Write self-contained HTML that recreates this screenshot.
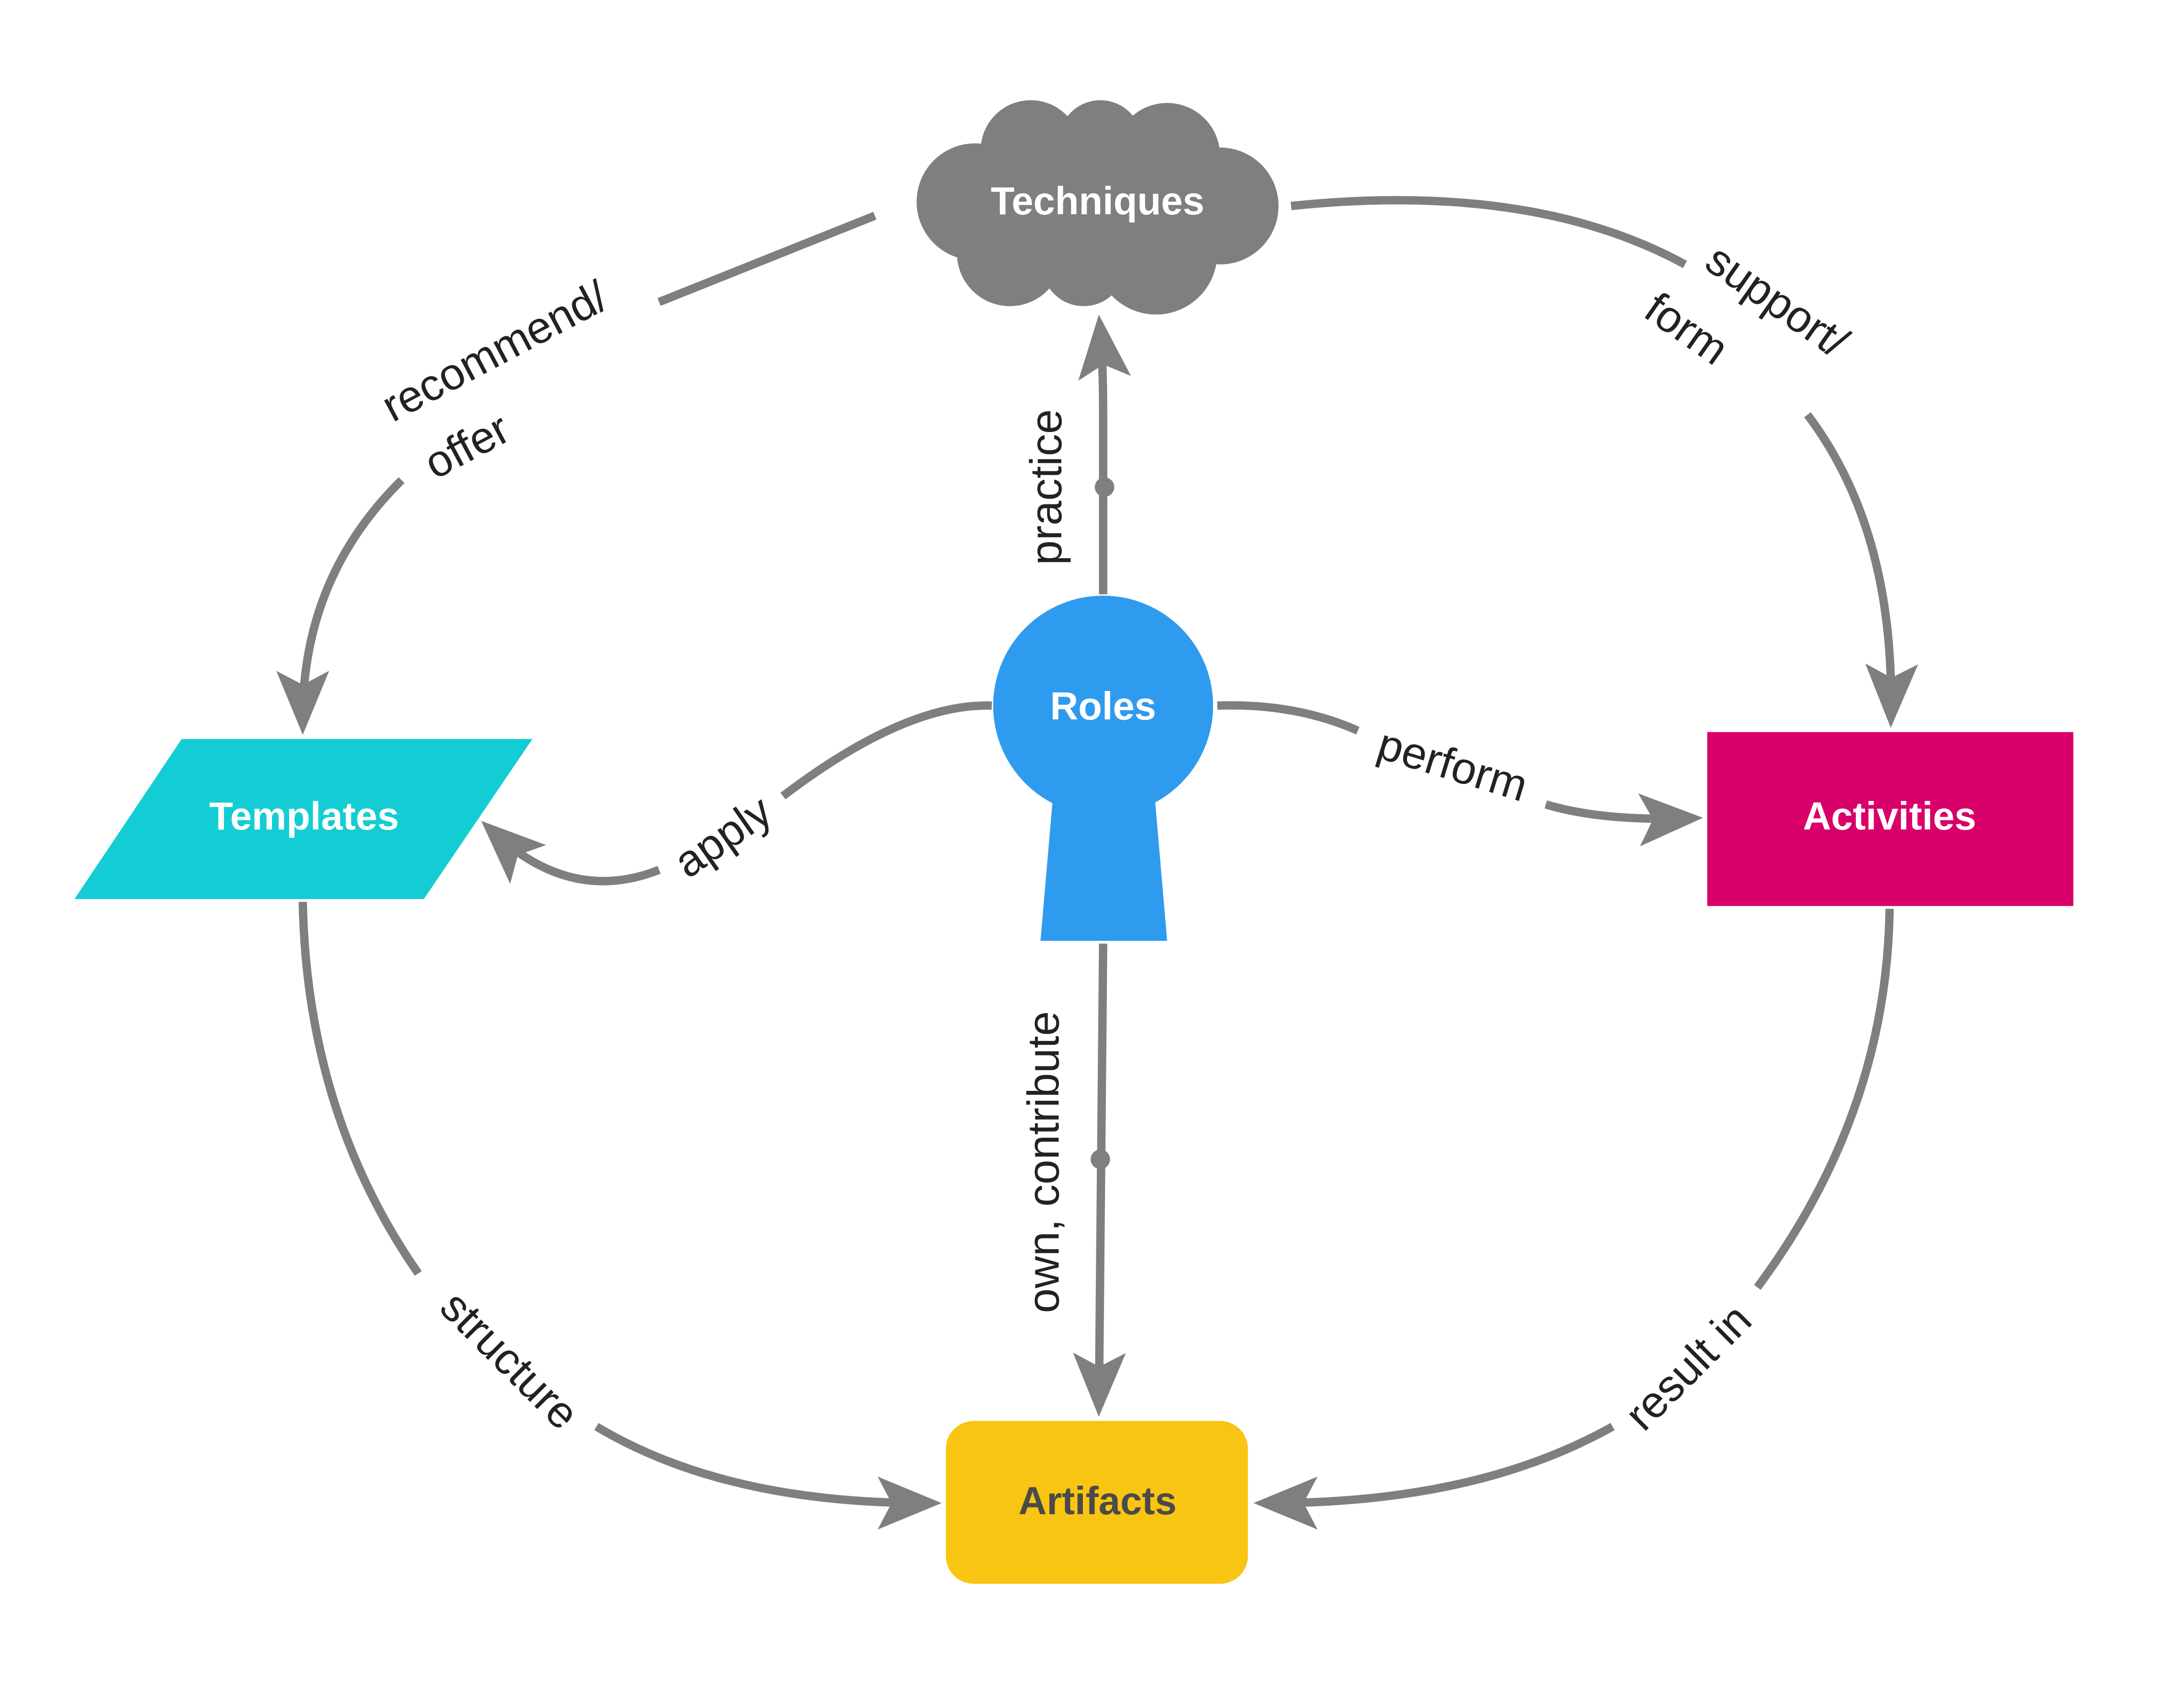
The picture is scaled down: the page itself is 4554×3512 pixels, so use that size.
<!DOCTYPE html>
<html><head><meta charset="utf-8"><style>html,body{margin:0;padding:0;background:#fff}svg{display:block}</style></head>
<body>
<svg width="4554" height="3512" viewBox="0 0 1568 1210" xmlns="http://www.w3.org/2000/svg">
<defs>
<marker id="a" markerUnits="userSpaceOnUse" viewBox="-50 -25 70 50" refX="-12" refY="0" markerWidth="70" markerHeight="50" orient="auto">
<path d="M0,0 L-46,-19 L-36,0 L-46,19 Z" fill="#7f7f7f"/>
</marker>
</defs>
<g fill="none" stroke="#7f7f7f" stroke-width="6">
<path d="M628,155 L473,217"/>
<path d="M288,345 Q217,415 217,516" marker-end="url(#a)"/>
<path d="M927,148 Q1100,130 1210,190"/>
<path d="M1298,298 Q1360,380 1358,511" marker-end="url(#a)"/>
<path d="M792,427 L792,300 Q792,260 790,238" marker-end="url(#a)"/>
<path d="M792,678 L789,1006" marker-end="url(#a)"/>
<path d="M874,507 Q930,505 975,525"/>
<path d="M1110,578 Q1150,590 1211,588" marker-end="url(#a)"/>
<path d="M712,507 Q650,505 562,572"/>
<path d="M473,625 Q410,650 354,598" marker-end="url(#a)"/>
<path d="M217,648 Q220,800 300,915"/>
<path d="M428,1025 Q520,1080 664,1080" marker-end="url(#a)"/>
<path d="M1357,653 Q1355,800 1262,925"/>
<path d="M1158,1025 Q1060,1080 912,1080" marker-end="url(#a)"/>
</g>
<circle cx="793" cy="350" r="7" fill="#7f7f7f"/>
<circle cx="790" cy="833" r="7" fill="#7f7f7f"/>
<g fill="#7f7f7f">
<ellipse cx="788" cy="150" rx="128" ry="40"/>
<circle cx="740" cy="108" r="36"/><circle cx="790" cy="102" r="30"/><circle cx="838" cy="112" r="38"/>
<circle cx="700" cy="145" r="42"/><circle cx="876" cy="148" r="42"/>
<circle cx="725" cy="182" r="38"/><circle cx="830" cy="182" r="44"/><circle cx="778" cy="190" r="30"/>
</g>
<text x="788" y="154" font-family="Liberation Sans, sans-serif" font-weight="bold" font-size="28" fill="#fff" text-anchor="middle">Techniques</text>
<g fill="#2f9bef">
<circle cx="792" cy="507" r="79"/>
<path d="M757,560 L828,560 L838,676 L747,676 Z"/>
</g>
<text x="792" y="517" font-family="Liberation Sans, sans-serif" font-weight="bold" font-size="28" fill="#fff" text-anchor="middle">Roles</text>
<polygon points="130,531 382,531 304,646 53,646" fill="#14cdd4"/>
<text x="218" y="596" font-family="Liberation Sans, sans-serif" font-weight="bold" font-size="28" fill="#fff" text-anchor="middle">Templates</text>
<rect x="1226" y="526" width="263" height="125" fill="#d9006a"/>
<text x="1357" y="596" font-family="Liberation Sans, sans-serif" font-weight="bold" font-size="28" fill="#fff" text-anchor="middle">Activities</text>
<rect x="679" y="1021" width="217" height="117" rx="20" fill="#f8c512"/>
<text x="788" y="1088" font-family="Liberation Sans, sans-serif" font-weight="bold" font-size="28" fill="#4a4a4a" text-anchor="middle">Artifacts</text>
<g font-family="Liberation Sans, sans-serif" font-size="32" fill="#222" text-anchor="middle">
<text transform="translate(360,262) rotate(-28)">recommend/</text>
<text transform="translate(340,330) rotate(-28)">offer</text>
<text transform="translate(1270,225) rotate(35)">support/</text>
<text transform="translate(1205,245) rotate(35)">form</text>
<text transform="translate(762,350) rotate(-90)">practice</text>
<text transform="translate(760,835) rotate(-90)">own, contribute</text>
<text transform="translate(1040,560) rotate(17)">perform</text>
<text transform="translate(525,610) rotate(-35)">apply</text>
<text transform="translate(358,985) rotate(45)">structure</text>
<text transform="translate(1220,990) rotate(-45)">result in</text>
</g>
</svg>
</body></html>
